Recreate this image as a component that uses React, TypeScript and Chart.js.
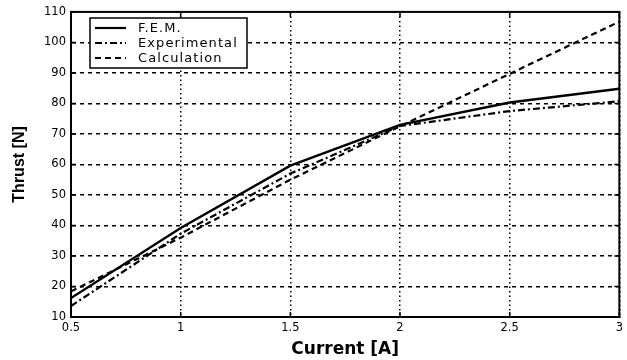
import React, { useEffect, useRef } from "react";
import { Chart, registerables } from "chart.js";

Chart.register(...registerables);

const currents = [0.5, 1, 1.5, 2, 2.5, 3];
const femThrust = [16.2, 39.2, 59.6, 73, 80.3, 84.8];
const experimentalThrust = [13.6, 37.3, 57, 72.6, 77.5, 80.7];
const calculationThrust = [18.4, 36, 55, 72.5, 89.7, 106.8];

const seriesNames = ["F.E.M.", "Experimental", "Calculation"];
const seriesDashes: number[][] = [[], [7, 3, 2, 3], [6, 4]];

const xTickValues = [0.5, 1, 1.5, 2, 2.5, 3];
const yTickValues = [10, 20, 30, 40, 50, 60, 70, 80, 90, 100, 110];

const toPoints = (ys: number[]) => currents.map((x, i) => ({ x, y: ys[i] }));

const framePlugin = {
  id: "frameAndLegend",
  afterDatasetsDraw(chart: any) {
    const { ctx, chartArea } = chart;
    const { left, right, top, bottom } = chartArea;
    const xs = chart.scales.x;
    const ys = chart.scales.y;
    ctx.save();
    ctx.setLineDash([]);
    ctx.strokeStyle = "#000";
    // inner ticks
    ctx.lineWidth = 1.5;
    ctx.beginPath();
    xTickValues.forEach((v) => {
      const px = xs.getPixelForValue(v);
      ctx.moveTo(px, bottom);
      ctx.lineTo(px, bottom - 5);
      ctx.moveTo(px, top);
      ctx.lineTo(px, top + 5);
    });
    yTickValues.forEach((v) => {
      const py = ys.getPixelForValue(v);
      ctx.moveTo(left, py);
      ctx.lineTo(left + 5, py);
      ctx.moveTo(right, py);
      ctx.lineTo(right - 5, py);
    });
    ctx.stroke();
    // box
    ctx.lineWidth = 2;
    ctx.strokeRect(left, top, right - left, bottom - top);

    // legend
    const lx = 90;
    const ly = 18;
    const lw = 157;
    const lh = 50;
    ctx.fillStyle = "#fff";
    ctx.fillRect(lx, ly, lw, lh);
    ctx.lineWidth = 1.5;
    ctx.strokeRect(lx, ly, lw, lh);
    ctx.font = '13px "DejaVu Sans"';
    try {
      (ctx as any).letterSpacing = "1.1px";
    } catch (e) {}
    ctx.textBaseline = "middle";
    ctx.textAlign = "left";
    ctx.fillStyle = "#000";
    seriesNames.forEach((name, i) => {
      const rowY = ly + 10 + i * 15;
      ctx.lineWidth = 2.2;
      ctx.setLineDash(seriesDashes[i]);
      ctx.beginPath();
      ctx.moveTo(lx + 5, rowY);
      ctx.lineTo(lx + 36, rowY);
      ctx.stroke();
      ctx.setLineDash([]);
      ctx.fillText(name, lx + 48, rowY + 1);
    });
    ctx.restore();
  },
};

export default function App() {
  const canvasRef = useRef<HTMLCanvasElement | null>(null);

  useEffect(() => {
    document.body.style.margin = "0";
    const canvas = canvasRef.current;
    if (!canvas) return;
    const chart = new Chart(canvas, {
      type: "line",
      data: {
        datasets: [
          {
            label: seriesNames[0],
            data: toPoints(femThrust),
            borderColor: "#000",
            borderWidth: 2.4,
            borderDash: seriesDashes[0],
            pointRadius: 0,
            tension: 0,
            fill: false,
          },
          {
            label: seriesNames[1],
            data: toPoints(experimentalThrust),
            borderColor: "#000",
            borderWidth: 2.2,
            borderDash: seriesDashes[1],
            pointRadius: 0,
            tension: 0,
            fill: false,
          },
          {
            label: seriesNames[2],
            data: toPoints(calculationThrust),
            borderColor: "#000",
            borderWidth: 2.2,
            borderDash: seriesDashes[2],
            pointRadius: 0,
            tension: 0,
            fill: false,
          },
        ],
      },
      options: {
        responsive: false,
        animation: false,
        layout: { padding: { top: 11, right: 5, left: 0, bottom: 0 } },
        plugins: {
          legend: { display: false },
          tooltip: { enabled: false },
        },
        scales: {
          x: {
            type: "linear",
            min: 0.5,
            max: 3,
            afterBuildTicks: (scale: any) => {
              scale.ticks = xTickValues.map((v) => ({ value: v }));
            },
            ticks: {
              color: "#000",
              font: { family: "DejaVu Sans", size: 11.5 },
              padding: 4,
              maxRotation: 0,
              autoSkip: false,
              callback: (v: any) => String(v),
            },
            grid: { color: "#000", lineWidth: 1.5, drawTicks: false },
            border: { display: true, color: "#000", width: 2, dash: [1.5, 3] },
            title: {
              display: true,
              text: "Current [A]",
              color: "#000",
              font: { family: "DejaVu Sans", size: 17, weight: "bold" },
              padding: { top: 4, bottom: 0 },
            },
            afterFit: (scale: any) => {
              scale.height = 43;
            },
          },
          y: {
            type: "linear",
            min: 10,
            max: 110,
            afterBuildTicks: (scale: any) => {
              scale.ticks = yTickValues.map((v) => ({ value: v }));
            },
            ticks: {
              color: "#000",
              font: { family: "DejaVu Sans", size: 11.5 },
              padding: 5,
              autoSkip: false,
              callback: (v: any) => String(v),
            },
            grid: { color: "#000", lineWidth: 1.5, drawTicks: false },
            border: { display: true, color: "#000", width: 2, dash: [4, 4] },
            title: {
              display: true,
              text: "Thrust [N]",
              color: "#000",
              font: { family: "Liberation Sans", size: 16, weight: "bold" },
              padding: { top: 10, bottom: 0 },
            },
            afterFit: (scale: any) => {
              scale.width = 71;
            },
          },
        },
      },
      plugins: [framePlugin],
    });
    return () => chart.destroy();
  }, []);

  return <canvas ref={canvasRef} width={627} height={360} />;
}
